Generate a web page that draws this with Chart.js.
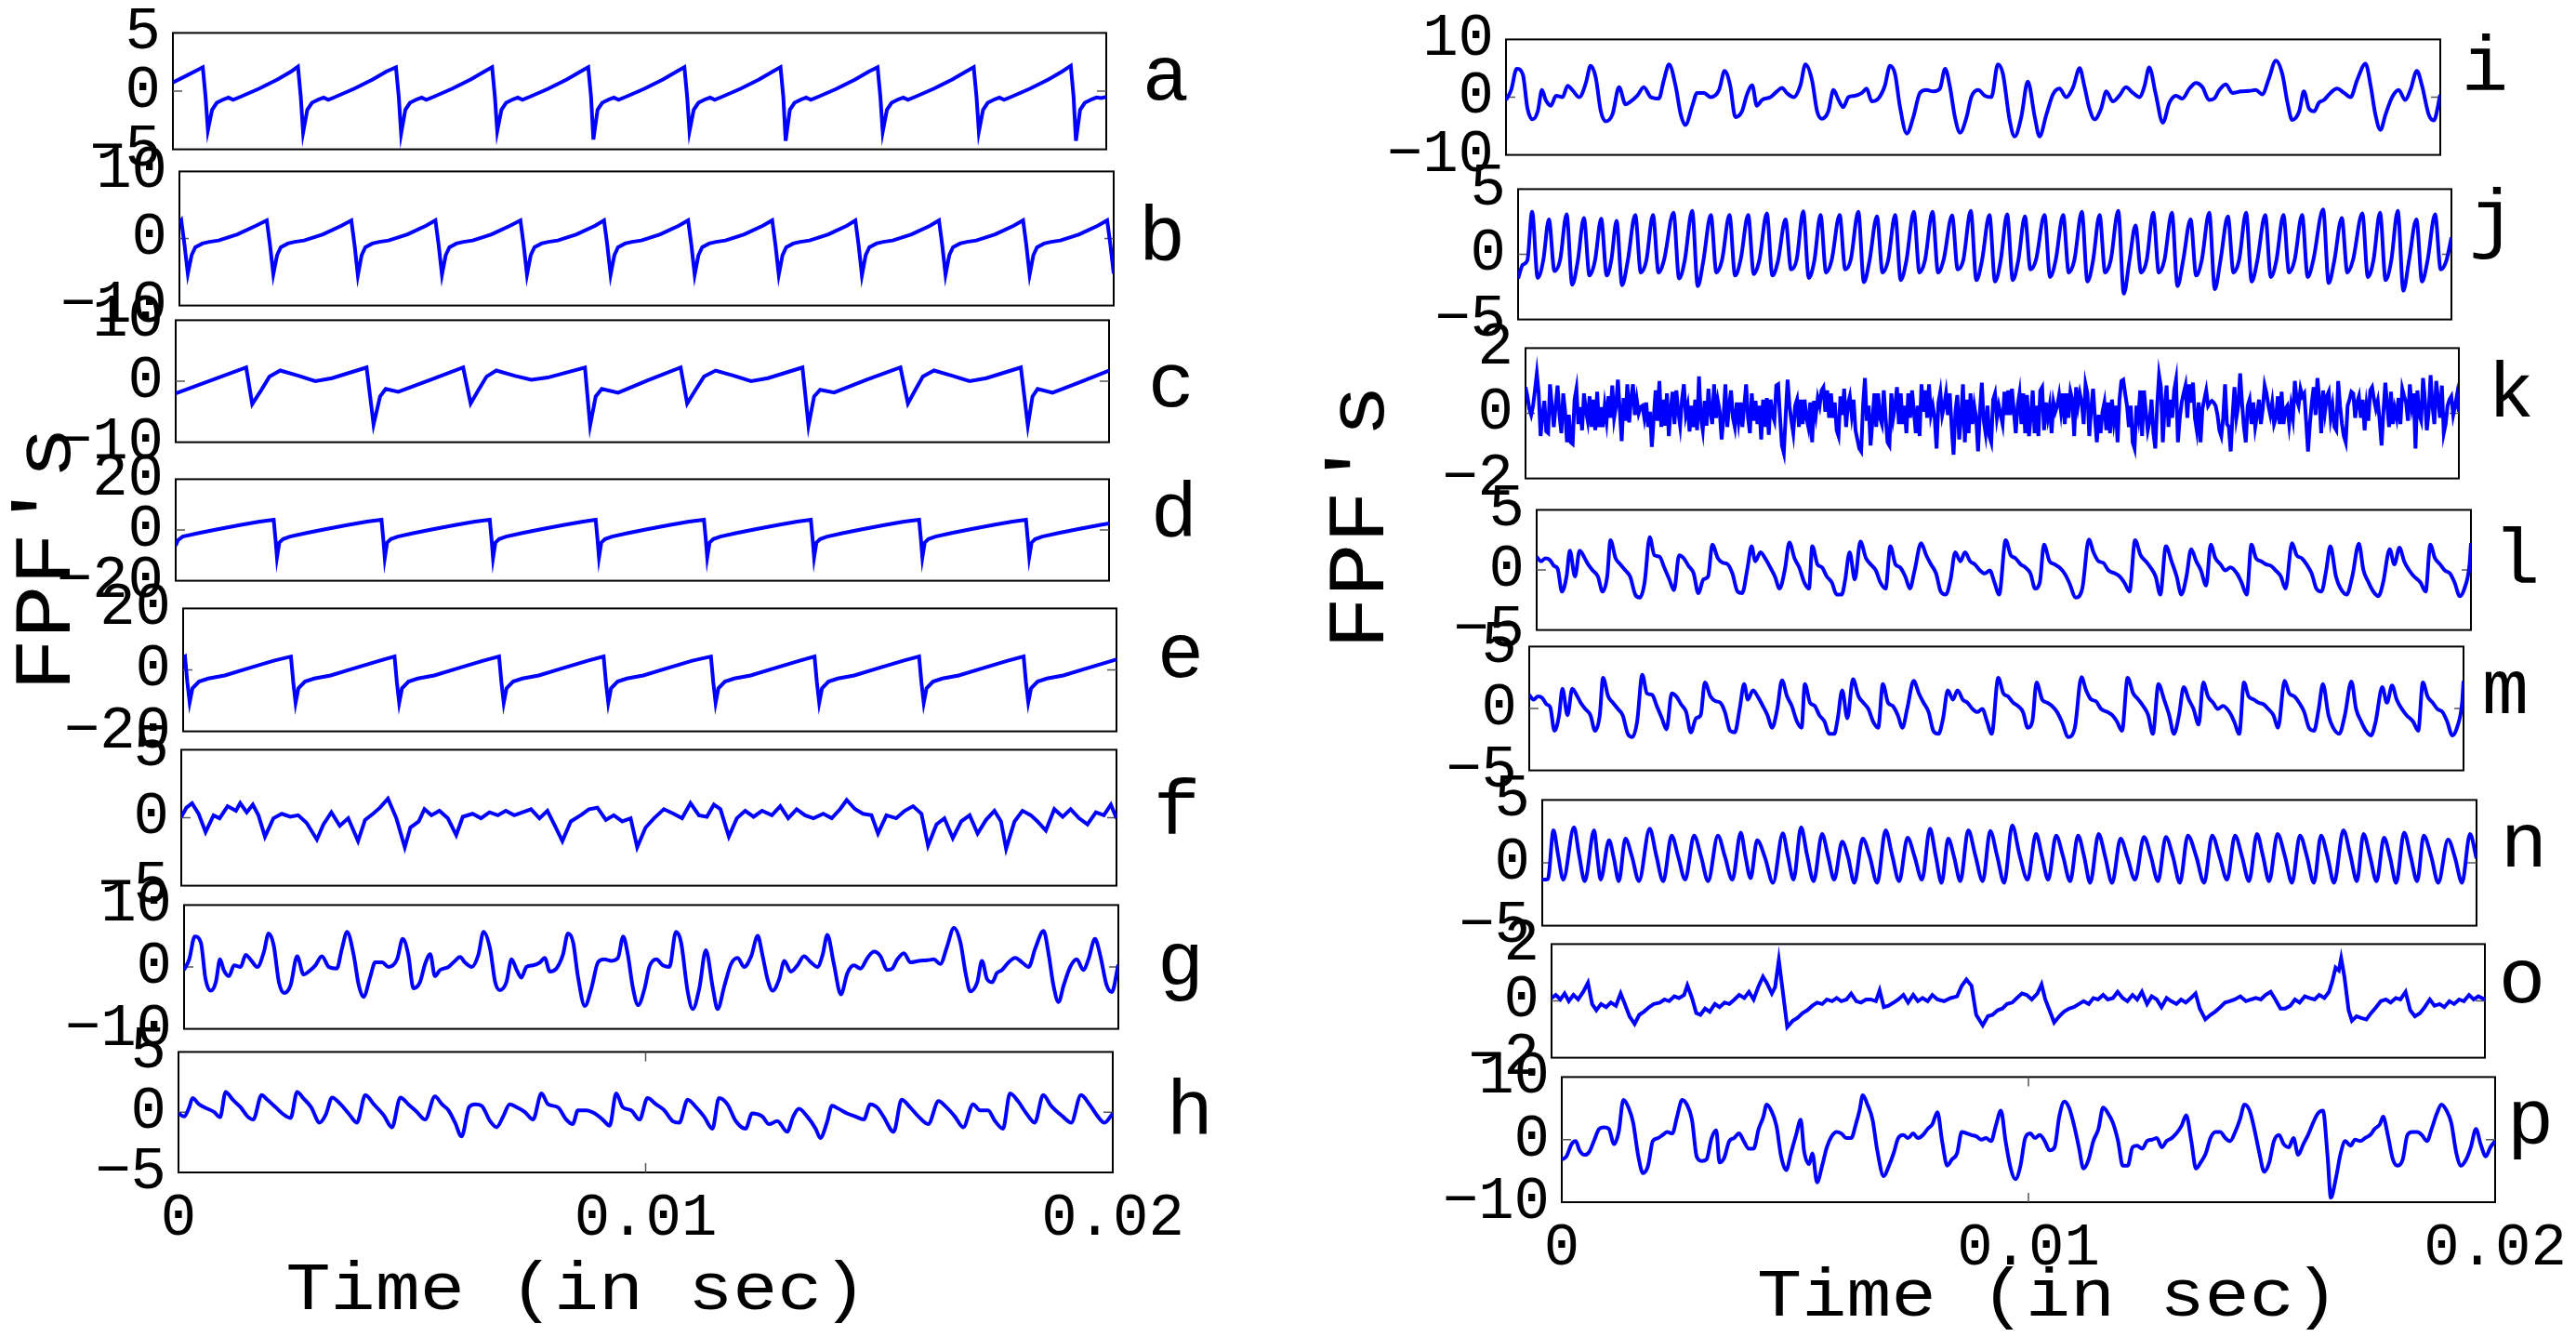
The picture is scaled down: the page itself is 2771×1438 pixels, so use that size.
<!DOCTYPE html>
<html>
<head>
<meta charset="utf-8">
<script src="https://cdn.jsdelivr.net/npm/chart.js@4.4.0/dist/chart.umd.min.js"></script>
<style>
  body { margin: 0; background: #fff; }
  #fig { position: relative; width: 2771px; height: 1438px; overflow: hidden; background: #fff; }
  #fig canvas { position: absolute; }
  #fig svg { position: absolute; left: 0; top: 0; }
</style>
</head>
<body>
<div id="fig"></div>
<script>
// ---- data: time in ms, FPF value ----
const timeTickValues = [0, 10, 20];
const timeTickLabels = ['0', '0.01', '0.02'];
const ticks2 = [-2, 0, 2];
const ticks5 = [-5, 0, 5];
const ticks10 = [-10, 0, 10];
const ticks20 = [-20, 0, 20];

const seriesA = [[0,0.75],[0.3,1.35],[0.5,1.75],[0.64,2.05],
[0.70,-0.5],[0.75,-3.35],[0.84,-1.6],[0.94,-1.0],[1.09,-0.7],[1.19,-0.55],[1.29,-0.75],[1.44,-0.5],[1.84,0.2],[2.24,1.0],[2.54,1.7],[2.68,2.1],
[2.74,-0.5],[2.79,-3.55],[2.88,-1.6],[2.98,-1.0],[3.13,-0.7],[3.23,-0.55],[3.33,-0.75],[3.48,-0.5],[3.88,0.2],[4.28,1.0],[4.58,1.7],[4.78,2.05],
[4.84,-0.5],[4.89,-3.64],[4.98,-1.6],[5.08,-1.0],[5.23,-0.7],[5.33,-0.55],[5.43,-0.75],[5.58,-0.5],[5.98,0.2],[6.38,1.0],[6.68,1.7],[6.84,2.05],
[6.90,-0.5],[6.95,-3.43],[7.04,-1.6],[7.14,-1.0],[7.29,-0.7],[7.39,-0.55],[7.49,-0.75],[7.64,-0.5],[8.04,0.2],[8.44,1.0],[8.74,1.7],[8.90,2.05],
[8.96,-0.5],[9.01,-4.16],[9.10,-1.6],[9.20,-1.0],[9.35,-0.7],[9.45,-0.55],[9.55,-0.75],[9.70,-0.5],[10.10,0.2],[10.50,1.0],[10.80,1.7],[10.96,2.05],
[11.02,-0.5],[11.07,-3.43],[11.16,-1.6],[11.26,-1.0],[11.41,-0.7],[11.51,-0.55],[11.61,-0.75],[11.76,-0.5],[12.16,0.2],[12.56,1.0],[12.86,1.7],[13.02,2.05],
[13.08,-0.5],[13.13,-4.27],[13.22,-1.6],[13.32,-1.0],[13.47,-0.7],[13.57,-0.55],[13.67,-0.75],[13.82,-0.5],[14.22,0.2],[14.62,1.0],[14.92,1.7],[15.10,2.05],
[15.16,-0.5],[15.21,-3.49],[15.30,-1.6],[15.40,-1.0],[15.55,-0.7],[15.65,-0.55],[15.75,-0.75],[15.90,-0.5],[16.30,0.2],[16.70,1.0],[17.00,1.7],[17.16,2.05],
[17.22,-0.5],[17.27,-3.49],[17.36,-1.6],[17.46,-1.0],[17.61,-0.7],[17.71,-0.55],[17.81,-0.75],[17.96,-0.5],[18.36,0.2],[18.76,1.0],[19.06,1.7],[19.24,2.18],
[19.30,-0.5],[19.35,-4.27],[19.44,-1.6],[19.54,-1.0],[19.69,-0.7],[19.79,-0.55],[19.89,-0.6],[20.0,-0.5]];

const seriesB = [[0,2.3],[0.04,2.7],
[0.11,-1.0],[0.18,-5.25],[0.26,-2.5],[0.34,-1.3],[0.49,-0.75],[0.64,-0.5],[0.84,-0.3],[1.24,0.6],[1.64,1.9],[1.87,2.7],
[1.94,-1.0],[2.01,-5.34],[2.09,-2.5],[2.17,-1.3],[2.32,-0.75],[2.47,-0.5],[2.67,-0.3],[3.07,0.6],[3.47,1.9],[3.68,2.7],
[3.75,-1.0],[3.82,-5.48],[3.90,-2.5],[3.98,-1.3],[4.13,-0.75],[4.28,-0.5],[4.48,-0.3],[4.88,0.6],[5.28,1.9],[5.48,2.7],
[5.55,-1.0],[5.62,-5.4],[5.70,-2.5],[5.78,-1.3],[5.93,-0.75],[6.08,-0.5],[6.28,-0.3],[6.68,0.6],[7.08,1.9],[7.30,2.7],
[7.37,-1.0],[7.44,-5.4],[7.52,-2.5],[7.60,-1.3],[7.75,-0.75],[7.90,-0.5],[8.10,-0.3],[8.50,0.6],[8.90,1.9],[9.09,2.7],
[9.16,-1.0],[9.23,-5.4],[9.31,-2.5],[9.39,-1.3],[9.54,-0.75],[9.69,-0.5],[9.89,-0.3],[10.29,0.6],[10.69,1.9],[10.89,2.7],
[10.96,-1.0],[11.03,-5.4],[11.11,-2.5],[11.19,-1.3],[11.34,-0.75],[11.49,-0.5],[11.69,-0.3],[12.09,0.6],[12.49,1.9],[12.69,2.7],
[12.76,-1.0],[12.83,-5.4],[12.91,-2.5],[12.99,-1.3],[13.14,-0.75],[13.29,-0.5],[13.49,-0.3],[13.89,0.6],[14.29,1.9],[14.47,2.7],
[14.54,-1.0],[14.61,-5.48],[14.69,-2.5],[14.77,-1.3],[14.92,-0.75],[15.07,-0.5],[15.27,-0.3],[15.67,0.6],[16.07,1.9],[16.26,2.7],
[16.33,-1.0],[16.40,-5.4],[16.48,-2.5],[16.56,-1.3],[16.71,-0.75],[16.86,-0.5],[17.06,-0.3],[17.46,0.6],[17.86,1.9],[18.06,2.7],
[18.13,-1.0],[18.20,-5.4],[18.28,-2.5],[18.36,-1.3],[18.51,-0.75],[18.66,-0.5],[18.86,-0.3],[19.26,0.6],[19.66,1.9],[19.86,2.7],
[19.93,-1.0],[20.0,-5.25]];

const seriesC = [[0,-2.0],[1.51,2.25],[1.64,-3.75],[1.83,-1.5],[2.01,0.75],[2.24,1.75],[2.63,0.9],[2.99,0.0],[3.35,0.5],
[4.09,2.25],[4.24,-7.1],[4.38,-2.5],[4.50,-1.25],[4.77,-1.75],[5.48,0.3],[6.16,2.25],[6.32,-3.65],[6.49,-1.4],[6.66,0.75],[6.87,1.75],
[7.26,0.9],[7.62,0.25],[7.97,0.6],[8.77,2.25],[8.88,-7.25],[9.00,-2.5],[9.13,-1.25],[9.48,-1.9],[10.10,0.1],[10.82,2.25],[10.96,-3.65],
[11.14,-1.4],[11.32,0.75],[11.57,1.75],[11.96,0.9],[12.33,0.0],[12.69,0.5],[13.43,2.25],[13.56,-7.25],[13.68,-2.5],[13.81,-1.4],
[14.11,-1.85],[14.82,0.3],[15.53,2.25],[15.69,-3.65],[15.85,-1.4],[16.01,0.75],[16.25,1.75],[16.64,0.9],[17.01,0.0],[17.37,0.5],
[18.11,2.25],[18.26,-7.25],[18.36,-2.5],[18.47,-1.25],[18.79,-1.9],[19.36,-0.2],[20.0,1.75]];

const seriesD = [[0,-6.1],[0.05,-4.0],[0.15,-2.6],[0.5,-1.2],[0.9,0.3],[1.4,2.0],[1.8,3.3],[2.10,4.05],
[2.14,-4],[2.17,-10.8],[2.22,-5.0],[2.30,-3.6],[2.45,-2.6],[2.80,-1.2],[3.20,0.3],[3.70,2.0],[4.10,3.3],[4.41,4.05],
[4.45,-4],[4.48,-11.0],[4.53,-5.0],[4.61,-3.6],[4.76,-2.6],[5.11,-1.2],[5.51,0.3],[6.01,2.0],[6.41,3.3],[6.73,4.05],
[6.77,-4],[6.80,-11.0],[6.85,-5.0],[6.93,-3.6],[7.08,-2.6],[7.43,-1.2],[7.83,0.3],[8.33,2.0],[8.73,3.3],[9.00,4.05],
[9.04,-4],[9.07,-10.8],[9.12,-5.0],[9.20,-3.6],[9.35,-2.6],[9.70,-1.2],[10.10,0.3],[10.60,2.0],[11.00,3.3],[11.32,4.05],
[11.36,-4],[11.39,-10.8],[11.44,-5.0],[11.52,-3.6],[11.67,-2.6],[12.02,-1.2],[12.42,0.3],[12.92,2.0],[13.32,3.3],[13.61,4.05],
[13.65,-4],[13.68,-10.8],[13.73,-5.0],[13.81,-3.6],[13.96,-2.6],[14.31,-1.2],[14.71,0.3],[15.21,2.0],[15.61,3.3],[15.93,4.05],
[15.97,-4],[16.00,-10.8],[16.05,-5.0],[16.13,-3.6],[16.28,-2.6],[16.63,-1.2],[17.03,0.3],[17.53,2.0],[17.93,3.3],[18.22,4.05],
[18.26,-4],[18.29,-10.6],[18.34,-5.0],[18.42,-3.6],[18.57,-2.6],[18.92,-1.2],[19.32,0.3],[19.82,2.0],[20.0,2.6]];

const seriesE = [[0,4.0],[0.04,4.35],
[0.09,-4],[0.14,-10.5],[0.20,-6.0],[0.34,-3.8],[0.54,-2.8],[0.89,-1.8],[1.39,0.5],[1.94,3.0],[2.31,4.35],
[2.36,-4],[2.41,-10.7],[2.47,-6.0],[2.61,-3.8],[2.81,-2.8],[3.16,-1.8],[3.66,0.5],[4.21,3.0],[4.53,4.35],
[4.58,-4],[4.63,-10.7],[4.69,-6.0],[4.83,-3.8],[5.03,-2.8],[5.38,-1.8],[5.88,0.5],[6.43,3.0],[6.77,4.35],
[6.82,-4],[6.87,-10.7],[6.93,-6.0],[7.07,-3.8],[7.27,-2.8],[7.62,-1.8],[8.12,0.5],[8.67,3.0],[9.01,4.35],
[9.06,-4],[9.11,-10.7],[9.17,-6.0],[9.31,-3.8],[9.51,-2.8],[9.86,-1.8],[10.36,0.5],[10.91,3.0],[11.31,4.35],
[11.36,-4],[11.41,-10.7],[11.47,-6.0],[11.61,-3.8],[11.81,-2.8],[12.16,-1.8],[12.66,0.5],[13.21,3.0],[13.53,4.35],
[13.58,-4],[13.63,-10.7],[13.69,-6.0],[13.83,-3.8],[14.03,-2.8],[14.38,-1.8],[14.88,0.5],[15.43,3.0],[15.77,4.35],
[15.82,-4],[15.87,-10.7],[15.93,-6.0],[16.07,-3.8],[16.27,-2.8],[16.62,-1.8],[17.12,0.5],[17.67,3.0],[18.01,4.35],
[18.06,-4],[18.11,-10.5],[18.17,-6.0],[18.31,-3.8],[18.51,-2.8],[18.86,-1.8],[19.36,0.5],[19.91,3.0],[20.0,3.4]];

const seriesF = [[0,0.07],[0.11,0.74],[0.23,1.07],[0.37,0.29],[0.52,-1.05],[0.69,0.18],[0.82,-0.04],[0.99,0.85],[1.17,0.51],[1.26,1.07],
[1.40,0.40],[1.53,0.96],[1.65,0.18],[1.79,-1.39],[1.97,-0.04],[2.15,0.29],[2.33,0.07],[2.50,0.18],[2.68,-0.38],[2.90,-1.61],
[3.04,-0.49],[3.21,0.40],[3.39,-0.60],[3.57,-0.04],[3.78,-1.72],[3.93,-0.16],[4.10,0.29],[4.25,0.74],[4.42,1.41],[4.60,-0.04],
[4.78,-2.17],[4.90,-0.72],[5.08,-0.27],[5.20,0.63],[5.35,0.18],[5.52,0.51],[5.70,-0.04],[5.88,-1.28],[6.02,0.07],[6.23,0.29],
[6.41,-0.04],[6.59,0.40],[6.77,0.18],[6.94,0.51],[7.12,0.18],[7.30,0.40],[7.48,0.63],[7.66,-0.04],[7.83,0.51],[8.01,-0.72],
[8.15,-1.72],[8.33,-0.27],[8.54,0.18],[8.72,0.63],[8.90,0.74],[9.08,-0.16],[9.25,0.18],[9.43,-0.27],[9.61,-0.04],[9.75,-2.17],
[9.93,-0.72],[10.11,-0.04],[10.32,0.63],[10.53,0.29],[10.71,-0.04],[10.89,1.07],[11.07,0.18],[11.24,0.07],[11.39,0.96],[11.53,0.63],
[11.71,-1.39],[11.88,-0.04],[12.06,0.51],[12.24,0.07],[12.42,0.51],[12.63,0.18],[12.81,0.85],[12.98,-0.04],[13.16,0.63],[13.34,0.18],
[13.52,-0.04],[13.73,0.29],[13.91,-0.04],[14.09,0.63],[14.23,1.30],[14.41,0.63],[14.58,0.29],[14.76,0.18],[14.90,-1.16],[15.08,0.18],
[15.29,-0.04],[15.47,0.51],[15.65,0.85],[15.83,0.29],[15.97,-2.06],[16.15,-0.49],[16.32,-0.04],[16.50,-1.50],[16.68,-0.27],[16.86,0.18],
[17.03,-1.16],[17.21,-0.16],[17.39,0.51],[17.53,-0.27],[17.64,-2.28],[17.82,-0.27],[17.99,0.51],[18.17,0.18],[18.31,-0.27],[18.49,-0.94],
[18.67,0.63],[18.85,0.07],[19.02,0.63],[19.20,-0.04],[19.38,-0.49],[19.56,0.40],[19.73,0.18],[19.88,0.96],[20.0,-0.04]];

// panel g (the same trace appears again as panel i)
const seriesG = [[0,-0.49],[0.11,1.23],[0.23,4.93],[0.36,3.94],[0.46,-1.97],[0.57,-3.84],[0.68,-2.46],[0.77,1.23],[0.85,-0.49],[0.96,-1.48],
[1.07,0.25],[1.21,0.0],[1.32,1.97],[1.42,1.23],[1.57,0.0],[1.71,2.46],[1.81,5.42],[1.92,3.45],[2.03,-2.46],[2.14,-4.19],
[2.28,-2.96],[2.42,1.72],[2.56,-1.23],[2.67,-0.74],[2.81,0.25],[2.95,1.72],[3.10,0.0],[3.27,-0.25],[3.38,2.96],[3.49,5.67],
[3.63,1.97],[3.74,-2.96],[3.84,-4.83],[3.99,-1.48],[4.09,0.74],[4.24,0.74],[4.38,0.0],[4.56,1.23],[4.68,4.53],[4.80,1.97],
[4.91,-3.45],[5.05,-2.46],[5.16,0.49],[5.27,2.07],[5.37,-1.48],[5.48,-0.49],[5.66,0.0],[5.80,0.99],[5.91,1.63],[6.01,0.74],
[6.16,0.0],[6.30,1.97],[6.41,5.67],[6.55,2.96],[6.66,-2.46],[6.76,-3.74],[6.90,-2.46],[7.01,1.23],[7.12,-0.49],[7.22,-1.72],
[7.33,0.0],[7.47,0.25],[7.62,0.74],[7.72,1.48],[7.83,-0.74],[7.97,-0.25],[8.11,1.97],[8.22,5.42],[8.33,3.94],[8.43,-1.48],
[8.58,-6.31],[8.72,-3.45],[8.86,0.74],[9.00,1.23],[9.15,0.99],[9.29,1.48],[9.40,4.93],[9.50,1.97],[9.61,-3.45],[9.72,-6.16],
[9.86,-3.45],[9.96,0.0],[10.11,1.23],[10.25,0.25],[10.39,0.0],[10.53,5.67],[10.64,3.94],[10.78,-3.94],[10.89,-6.80],[11.03,-3.45],
[11.17,2.71],[11.32,-3.45],[11.42,-6.80],[11.57,-2.96],[11.71,0.49],[11.85,1.48],[11.99,0.0],[12.14,1.72],[12.28,5.02],[12.38,1.97],
[12.49,-1.97],[12.60,-3.84],[12.74,-1.97],[12.85,0.99],[12.99,-0.74],[13.13,0.25],[13.27,1.72],[13.42,0.74],[13.56,0.0],[13.67,1.97],
[13.77,5.17],[13.91,0.49],[14.06,-4.43],[14.20,-0.99],[14.34,0.25],[14.48,-0.25],[14.63,1.48],[14.77,2.46],[14.91,1.72],[15.05,-0.49],
[15.16,-0.25],[15.27,1.23],[15.41,2.22],[15.55,0.74],[15.73,0.99],[15.91,1.08],[16.05,1.23],[16.19,0.49],[16.33,3.20],[16.48,6.31],
[16.62,3.94],[16.73,-0.99],[16.83,-3.94],[16.98,-2.46],[17.08,0.99],[17.19,-1.97],[17.30,-2.46],[17.40,-0.99],[17.51,-0.49],[17.65,0.74],
[17.79,1.48],[17.94,0.74],[18.08,0.0],[18.22,2.96],[18.40,5.81],[18.51,1.97],[18.61,-2.96],[18.72,-5.67],[18.83,-2.96],[18.97,0.0],
[19.11,1.23],[19.25,-0.49],[19.36,1.23],[19.50,4.53],[19.61,1.97],[19.75,-2.96],[19.86,-4.04],[20.0,0.39]];

const seriesH = [[0,-0.10],[0.12,-0.36],[0.23,0.41],[0.30,1.17],[0.44,0.66],[0.62,0.28],[0.76,0.03],[0.89,-0.41],[1.01,1.68],[1.16,1.04],
[1.33,0.41],[1.48,-0.36],[1.60,-0.61],[1.78,1.42],[1.90,1.04],[2.08,0.41],[2.22,-0.10],[2.40,-0.48],[2.54,1.68],[2.67,1.17],
[2.84,0.41],[3.02,-0.87],[3.15,-0.23],[3.29,1.22],[3.47,0.66],[3.64,-0.10],[3.82,-0.87],[4.00,1.42],[4.18,0.66],[4.39,-0.23],
[4.57,-1.25],[4.75,1.22],[4.92,0.66],[5.10,0.03],[5.28,-0.61],[5.49,1.30],[5.64,0.66],[5.78,0.15],[5.92,-0.87],[6.06,-2.01],
[6.22,0.41],[6.35,0.66],[6.49,0.53],[6.67,-0.74],[6.81,-1.25],[6.95,-0.36],[7.09,0.66],[7.24,0.41],[7.41,0.03],[7.59,-0.61],
[7.77,1.55],[7.91,0.66],[8.12,0.41],[8.30,-0.61],[8.44,-0.99],[8.55,0.15],[8.73,0.15],[8.91,-0.10],[9.08,-0.61],[9.23,-1.12],
[9.37,1.55],[9.51,0.41],[9.69,0.15],[9.87,-0.61],[10.04,1.17],[10.22,0.66],[10.40,0.15],[10.58,-0.74],[10.72,-0.87],[10.90,1.04],
[11.08,0.41],[11.25,-0.36],[11.43,-1.37],[11.57,1.17],[11.75,0.66],[11.93,-0.74],[12.14,-1.37],[12.28,-0.10],[12.50,-0.36],[12.64,-0.99],
[12.82,-0.74],[13.03,-1.63],[13.16,-0.36],[13.28,0.28],[13.46,-0.36],[13.64,-1.37],[13.74,-2.14],[13.88,-0.87],[13.99,0.53],[14.13,0.28],
[14.31,-0.10],[14.49,-0.36],[14.67,-0.61],[14.81,0.66],[14.95,0.41],[15.09,-0.36],[15.31,-1.63],[15.48,1.04],[15.66,0.41],[15.84,-0.36],
[16.05,-0.99],[16.27,0.92],[16.44,0.41],[16.62,-0.36],[16.80,-1.25],[17.01,0.66],[17.16,0.15],[17.33,0.15],[17.48,-0.74],[17.65,-1.37],
[17.80,1.55],[17.97,0.92],[18.15,-0.10],[18.33,-0.87],[18.51,1.42],[18.68,0.53],[18.93,-0.36],[19.11,-0.87],[19.32,1.42],[19.50,0.66],
[19.68,-0.36],[19.82,-0.87],[20.0,-0.10]];

const seriesJ = [[0,-1.86],[0.1,-0.8],[0.2,-0.45],
[0.30,3.26],[0.42,-1.81],[0.54,-0.45],[0.66,2.67],[0.78,-1.28],[0.90,-0.45],[1.04,3.07],[1.16,-2.33],[1.28,-0.5],
[1.41,2.79],[1.53,-1.63],[1.65,-0.45],[1.78,2.72],[1.90,-1.63],[2.0,-0.4],[2.11,2.56],[2.23,-2.37],[2.35,-0.5],
[2.51,3.02],[2.63,-1.40],[2.75,-0.45],[2.89,3.02],[3.01,-1.40],[3.13,-0.4],[3.33,3.19],[3.45,-1.86],[3.57,-0.5],
[3.73,3.33],[3.85,-2.44],[3.97,-0.5],[4.13,3.02],[4.25,-1.40],[4.37,-0.45],[4.53,3.02],[4.65,-1.63],[4.77,-0.4],
[4.93,3.02],[5.05,-1.51],[5.17,-0.45],[5.33,3.14],[5.45,-1.63],[5.57,-0.5],[5.73,2.67],[5.85,-1.16],[5.97,-0.4],
[6.11,3.30],[6.23,-1.81],[6.35,-0.45],[6.48,3.02],[6.60,-1.40],[6.72,-0.45],[6.89,3.02],[7.01,-1.16],[7.13,-0.4],
[7.29,3.26],[7.41,-2.14],[7.53,-0.5],[7.69,2.91],[7.81,-1.40],[7.93,-0.45],[8.08,3.02],[8.20,-1.98],[8.32,-0.5],
[8.48,3.26],[8.60,-1.40],[8.72,-0.45],[8.88,3.26],[9.00,-1.40],[9.12,-0.4],[9.30,2.98],[9.42,-1.16],[9.54,-0.45],
[9.70,3.33],[9.82,-1.98],[9.94,-0.5],[10.10,3.02],[10.22,-2.09],[10.34,-0.5],[10.48,3.07],[10.60,-1.98],[10.72,-0.45],
[10.86,2.91],[10.98,-1.16],[11.10,-0.4],[11.28,3.02],[11.40,-1.74],[11.52,-0.45],[11.68,3.02],[11.80,-1.40],[11.92,-0.45],
[12.08,3.26],[12.20,-2.09],[12.32,-0.5],[12.46,3.02],[12.58,-1.40],[12.70,-0.45],[12.86,3.33],[12.98,-3.02],[13.10,-0.5],
[13.23,2.21],[13.35,-1.40],[13.47,-0.45],[13.61,3.19],[13.73,-1.40],[13.85,-0.45],[14.01,3.19],[14.13,-2.44],[14.25,-0.5],
[14.41,2.67],[14.53,-1.63],[14.65,-0.45],[14.81,3.19],[14.93,-2.67],[15.05,-0.5],[15.21,2.91],[15.33,-1.40],[15.45,-0.45],
[15.60,3.19],[15.72,-2.09],[15.84,-0.5],[16.01,3.02],[16.13,-1.74],[16.25,-0.45],[16.40,3.02],[16.52,-1.40],[16.64,-0.45],
[16.80,3.02],[16.92,-1.74],[17.04,-0.45],[17.25,3.44],[17.37,-2.21],[17.49,-0.5],[17.65,2.79],[17.77,-1.40],[17.89,-0.45],
[18.09,3.14],[18.21,-1.74],[18.33,-0.45],[18.47,3.19],[18.59,-1.98],[18.71,-0.5],[18.85,3.33],[18.97,-2.79],[19.09,-0.5],
[19.25,2.67],[19.37,-2.09],[19.49,-0.45],[19.65,3.07],[19.77,-1.16],[19.89,-0.5],[20.0,1.28]];

// panel k: evenly sampled values read across the 20 ms window
const seriesKValues = [0.80,0.52,0.14,-0.05,0.23,0.70,1.22,0.61,-0.70,-0.05,0.38,-0.56,-0.61,0.89,0.23,-0.42,0.23,0.85,-0.05,-0.61,
0.61,0.05,-0.89,-0.05,-0.89,-0.94,0.42,0.75,-0.33,0.19,-0.52,0.61,0.09,-0.23,0.52,-0.42,0.42,-0.52,0.66,-0.42,0.19,-0.42,0.23,-0.23,
0.52,-0.14,0.85,-0.14,0.23,1.03,0.09,-0.85,0.47,-0.23,0.89,-0.28,0.47,0.89,-0.05,0.42,0,0.19,0.23,-0.14,0.33,-0.42,0.05,-1.03,-0.14,
0.70,-0.23,0.99,-0.42,0.42,-0.38,0.61,-0.70,0.14,0.66,-0.33,0.70,0.05,-0.38,0.42,0.89,-0.05,0.23,-0.56,0.23,-0.42,0.42,-0.52,1.13,
-0.14,-0.52,0.38,-0.38,0.75,0.05,-0.33,0.89,-0.14,0.38,0.05,-0.80,-0.14,0.89,-0.42,0.23,0.70,-0.14,-0.42,0.33,-0.23,0.33,-0.42,0.23,
0.89,-0.14,-0.61,0.61,-0.23,0.38,-0.33,0.23,-0.80,0.42,-0.42,0.47,-0.66,0.42,-0.05,-0.23,0.85,0.89,-0.14,-0.99,-1.22,-0.05,1.03,0.23,
-0.23,-0.61,0.23,0.42,-0.42,0.42,-0.33,0.42,-0.14,-0.42,0.33,-0.89,0.38,-0.05,0.47,0.23,0.70,0.80,0.05,0.70,-0.14,0.61,-0.14,0.33,
-0.52,-0.70,0.52,-0.05,0.75,-0.42,0.28,0.52,-0.05,0.42,-0.52,-0.80,-1.08,-1.17,0.23,1.08,-0.23,0.23,-0.99,-0.23,0.61,-0.42,0.61,-0.14,
-0.33,0.70,-0.14,-0.89,-0.99,0.61,-0.14,0.23,0.80,-0.33,0.61,-0.33,0.23,-0.61,0.61,-0.14,0.70,0.05,-0.61,0.23,-0.70,0.89,0.05,0.70,
-0.14,0.89,-0.05,0.23,-0.14,-1.08,0.33,0.66,-0.05,0.23,0.61,-0.05,0.61,-0.42,-1.27,0.05,0.56,-0.80,-0.14,0.89,-0.89,0.42,-0.61,0.61,
-0.33,0.23,-0.14,-1.17,0.05,0.94,-0.23,-0.61,0.23,-0.70,-0.89,0.42,0.61,-0.14,0.23,-0.05,-0.33,0.66,-0.05,0.70,-0.05,0.75,0.05,-0.61,
0.23,0.61,
-0.33,0.61,-0.61,0.56,-0.70,-0.05,0.70,-0.61,0.23,-0.70,0.70,0.80,-0.52,0.33,-0.14,0.23,-0.61,0.33,0.05,0.23,0.56,0.05,0.61,-0.33,
0.61,-0.14,0.66,0.42,-0.70,0.80,0.23,0.61,0.33,-0.33,0.89,0.61,-0.70,0.14,0.75,-0.14,-0.89,-0.05,-0.61,0.05,0.33,-0.52,0.33,-0.61,
0.42,-0.23,0.23,-0.89,0.42,0.99,1.03,0.61,0.23,-0.42,0.23,-0.89,-1.08,0.23,-0.14,0.70,-0.70,0.70,0.05,-0.52,-0.23,0.42,-0.61,-1.08,
0.23,1.17,0.80,-0.89,0.23,0.85,-0.42,0.42,-0.14,0.70,1.03,-0.89,-0.14,0.33,0.61,0.85,-0.14,0.89,0.33,0.94,-0.14,-0.52,0.33,-0.89,
0.14,0.42,0.70,0.23,0.33,0.38,0.33,0.23,-0.05,-0.52,-0.70,-0.14,0.89,-0.33,-0.42,-1.17,-0.05,0.80,-0.14,0.23,1.22,0.33,-0.42,-0.89,
0.23,0.42,-0.33,0.33,-0.42,-0.05,0.42,-0.33,0.14,0.85,0.61,0.23,-0.05,0.33,-0.33,-0.14,0.52,-0.33,0.66,-0.33,0.14,0.23,-0.33,0.23,
-0.14,0.99,0.42,0.23,0.75,0.52,0.61,-0.23,-1.17,-0.33,0.33,0.80,-0.05,1.08,0.42,-0.61,0.70,0.05,0.52,0.66,-0.14,0.23,-0.42,-0.52,
0.99,0.23,-0.33,-0.70,-0.89,0.23,0.42,0.66,0.61,-0.14,0.33,0.52,-0.14,0.42,-0.52,0.23,-0.23,0.70,0.80,0.42,0.14,0.38,-0.23,-0.99,
0.05,0.94,0.23,-0.42,0.66,-0.33,0.14,-0.14,0.47,-0.33,0.75,0.52,0.33,-0.23,0.89,0.23,0.61,-1.08,0.70,-0.05,-0.23,1.08,0.42,-0.52,
0.05,1.17,0.23,-0.33,0.99,0.42,-0.14,0.85,-0.61,-0.33,0.23,0.42,0.52,-0.05,0.23,0.56,0.05];

// panel l (the same trace appears again as panel m)
const seriesL = [[0,1.10],[0.09,0.72],[0.19,0.97],[0.28,0.84],[0.37,0.34],[0.45,0.09],[0.54,-1.80],[0.64,-0.54],[0.71,1.60],[0.82,-0.54],
[0.92,1.60],[1.03,0.97],[1.10,0.47],[1.20,-0.04],[1.31,-0.54],[1.41,-1.80],[1.51,-0.54],[1.58,2.48],[1.69,0.97],[1.79,0.47],
[1.90,-0.04],[2.00,-0.54],[2.11,-2.05],[2.21,-2.30],[2.31,-1.05],[2.42,2.73],[2.52,1.22],[2.63,1.10],[2.73,0.21],[2.84,-0.79],
[2.94,-1.68],[3.05,1.22],[3.15,0.97],[3.25,0.34],[3.36,-0.29],[3.46,-1.93],[3.57,-0.79],[3.67,-0.54],[3.76,2.10],[3.88,0.97],
[3.99,0.59],[4.09,0.47],[4.19,-0.29],[4.30,-1.80],[4.40,-1.93],[4.51,0.09],[4.60,1.98],[4.68,0.72],[4.79,1.47],[4.89,0.97],
[5.00,0.21],[5.10,-0.54],[5.20,-1.55],[5.31,-0.04],[5.41,2.28],[5.52,0.97],[5.62,0.21],[5.73,-1.05],[5.83,-1.55],[5.90,1.98],
[6.01,0.47],[6.11,0.21],[6.21,-0.54],[6.32,-1.05],[6.42,-2.05],[6.53,-2.05],[6.60,-0.92],[6.70,1.47],[6.81,-0.79],[6.93,2.36],
[7.05,0.97],[7.15,0.47],[7.26,-0.04],[7.36,-1.05],[7.47,-1.55],[7.57,1.98],[7.68,0.47],[7.78,0.21],[7.89,-0.54],[7.99,-1.55],
[8.09,-0.04],[8.23,2.23],[8.34,1.22],[8.44,0.47],[8.55,-0.29],[8.65,-1.80],[8.76,-2.05],[8.86,-0.79],[8.96,1.47],[9.07,0.72],
[9.17,1.47],[9.28,0.72],[9.38,0.47],[9.49,-0.04],[9.59,-0.29],[9.70,-0.04],[9.80,-1.05],[9.90,-2.05],[10.04,2.48],[10.15,1.22],
[10.25,0.97],[10.36,0.47],[10.46,0.21],[10.57,-0.29],[10.67,-1.55],[10.77,-1.05],[10.86,2.10],[10.98,0.72],[11.09,0.47],[11.19,0.21],
[11.30,-0.29],[11.40,-1.05],[11.54,-2.30],[11.68,-1.55],[11.82,2.53],[11.92,1.47],[12.03,0.72],[12.13,0.59],[12.24,-0.04],[12.38,-0.29],
[12.48,-0.54],[12.58,-1.05],[12.69,-1.80],[12.81,2.48],[12.93,1.22],[13.04,0.72],[13.14,0.21],[13.25,-0.54],[13.35,-2.05],[13.47,1.98],
[13.59,0.72],[13.70,-0.54],[13.80,-2.05],[13.91,-0.54],[14.01,1.73],[14.12,0.72],[14.22,-0.04],[14.33,-1.30],[14.43,2.10],[14.53,0.97],
[14.64,0.47],[14.74,-0.04],[14.85,0.21],[14.99,-0.29],[15.09,-1.05],[15.20,-2.05],[15.30,2.10],[15.40,0.97],[15.51,0.72],[15.61,0.47],
[15.72,0.34],[15.82,-0.04],[15.93,-0.54],[16.03,-1.55],[16.17,2.23],[16.27,1.22],[16.38,0.97],[16.48,0.47],[16.59,-0.29],[16.69,-1.55],
[16.80,-1.80],[16.90,-0.04],[16.99,1.98],[17.11,-0.54],[17.21,-1.55],[17.34,-2.05],[17.46,-0.54],[17.60,2.18],[17.70,-0.04],[17.81,-1.05],
[17.91,-1.80],[18.02,-2.18],[18.12,-1.05],[18.26,1.73],[18.36,0.47],[18.47,1.85],[18.57,0.72],[18.68,-0.04],[18.78,-0.54],[18.92,-1.05],
[19.03,-1.80],[19.13,2.10],[19.23,0.97],[19.34,0.47],[19.44,-0.04],[19.55,-0.29],[19.65,-1.05],[19.76,-2.18],[19.86,-1.55],[19.97,0.47],
[20.0,2.23]];

const seriesN = [[0,-1.34],[0.12,-1.3],
[0.24,2.58],[0.34,0.6],[0.45,-1.34],[0.68,2.82],[0.79,0.6],[0.91,-1.46],[1.11,2.58],[1.18,0.5],[1.25,-1.34],
[1.43,1.80],[1.53,0.4],[1.64,-1.46],[1.78,1.92],[1.92,0.5],[2.07,-1.46],[2.30,2.72],[2.44,0.6],[2.59,-1.46],
[2.77,2.17],[2.91,0.5],[3.06,-1.34],[3.25,2.17],[3.40,0.5],[3.55,-1.46],[3.76,2.17],[3.91,0.5],[4.07,-1.34],
[4.25,2.41],[4.35,0.5],[4.46,-1.22],[4.60,1.80],[4.77,0.4],[4.94,-1.59],[5.15,2.34],[5.26,0.5],[5.38,-1.34],
[5.54,2.82],[5.67,0.6],[5.81,-1.46],[5.99,2.29],[6.12,0.5],[6.25,-1.34],[6.42,1.68],[6.55,0.4],[6.68,-1.59],
[6.86,1.92],[7.01,0.5],[7.17,-1.59],[7.35,2.58],[7.49,0.6],[7.64,-1.46],[7.82,2.00],[7.97,0.5],[8.13,-1.34],
[8.30,2.72],[8.42,0.6],[8.55,-1.59],[8.69,1.92],[8.82,0.4],[8.95,-1.46],[9.12,2.58],[9.27,0.6],[9.43,-1.46],
[9.59,2.53],[9.74,0.5],[9.89,-1.59],[10.06,2.97],[10.22,0.6],[10.39,-1.34],[10.57,2.29],[10.70,0.5],[10.83,-1.34],
[11.00,2.17],[11.15,0.5],[11.30,-1.46],[11.47,2.17],[11.60,0.5],[11.73,-1.59],[11.91,2.29],[12.05,0.5],[12.20,-1.59],
[12.38,1.92],[12.53,0.4],[12.69,-1.34],[12.88,2.05],[13.03,0.5],[13.18,-1.46],[13.35,2.05],[13.50,0.5],[13.65,-1.59],
[13.82,2.17],[14.00,0.5],[14.17,-1.59],[14.34,2.17],[14.50,0.5],[14.66,-1.34],[14.83,2.17],[14.98,0.5],[15.13,-1.46],
[15.30,2.29],[15.43,0.5],[15.56,-1.46],[15.74,2.29],[15.90,0.5],[16.05,-1.59],[16.22,2.17],[16.37,0.5],[16.52,-1.59],
[16.67,2.17],[16.81,0.5],[16.95,-1.59],[17.15,2.58],[17.30,0.6],[17.44,-1.46],[17.58,2.29],[17.72,0.5],[17.86,-1.46],
[18.02,2.00],[18.15,0.4],[18.28,-1.59],[18.45,2.41],[18.59,0.5],[18.73,-1.46],[18.87,2.17],[19.03,0.5],[19.18,-1.59],
[19.39,1.85],[19.54,0.4],[19.69,-1.59],[19.86,2.29],[20.0,0.35]];

const seriesO = [[0,0.10],[0.09,0.21],[0.19,0.05],[0.28,0.26],[0.37,-0.01],[0.47,0.21],[0.57,0.05],[0.68,0.32],[0.78,0.64],[0.87,-0.11],
[0.96,-0.33],[1.06,-0.11],[1.17,-0.22],[1.27,-0.06],[1.38,-0.17],[1.48,0.26],[1.57,-0.11],[1.67,-0.54],[1.78,-0.81],[1.88,-0.49],
[1.98,-0.38],[2.09,-0.22],[2.19,-0.11],[2.32,-0.06],[2.42,0.05],[2.52,-0.01],[2.63,0.16],[2.73,0.10],[2.84,0.21],[2.91,0.55],
[3.01,0.10],[3.10,-0.43],[3.19,-0.49],[3.29,-0.27],[3.39,-0.38],[3.50,-0.11],[3.60,-0.22],[3.71,-0.06],[3.81,-0.11],[3.92,0.05],
[4.02,0.21],[4.13,0.10],[4.23,0.32],[4.33,0.05],[4.44,0.53],[4.53,0.85],[4.61,0.64],[4.72,0.26],[4.79,0.48],[4.87,1.44],
[4.94,0.53],[5.05,-0.92],[5.17,-0.70],[5.27,-0.60],[5.38,-0.43],[5.48,-0.33],[5.59,-0.17],[5.69,-0.06],[5.80,-0.11],[5.90,0.05],
[6.01,-0.01],[6.11,0.10],[6.21,-0.01],[6.32,0.05],[6.42,0.26],[6.53,-0.01],[6.63,-0.06],[6.74,0.05],[6.84,0.05],[6.95,-0.01],
[7.03,0.37],[7.12,-0.22],[7.22,-0.17],[7.33,-0.06],[7.43,0.05],[7.54,0.21],[7.64,-0.06],[7.75,0.21],[7.85,-0.01],[7.95,0.10],
[8.06,-0.01],[8.16,0.21],[8.27,0.05],[8.41,-0.01],[8.55,0.10],[8.69,0.16],[8.79,0.53],[8.89,0.75],[9.00,0.53],[9.10,-0.49],
[9.24,-0.86],[9.35,-0.54],[9.45,-0.49],[9.56,-0.33],[9.66,-0.27],[9.76,-0.11],[9.87,-0.06],[9.97,0.10],[10.08,0.26],[10.18,0.21],
[10.29,0.05],[10.41,0.26],[10.50,0.58],[10.58,0.05],[10.67,-0.33],[10.77,-0.76],[10.88,-0.54],[10.98,-0.38],[11.09,-0.27],[11.19,-0.22],
[11.30,-0.11],[11.40,-0.01],[11.51,-0.11],[11.61,0.10],[11.71,0.05],[11.82,0.21],[11.92,0.05],[12.03,0.10],[12.13,0.32],[12.24,0.10],
[12.34,-0.01],[12.45,0.21],[12.55,0.05],[12.65,0.32],[12.76,-0.11],[12.86,0.16],[12.97,0.05],[13.07,-0.22],[13.18,0.10],[13.28,-0.01],
[13.39,-0.11],[13.49,0.05],[13.59,-0.06],[13.70,0.10],[13.80,0.26],[13.89,-0.27],[14.01,-0.65],[14.12,-0.49],[14.22,-0.38],[14.33,-0.22],
[14.43,-0.06],[14.53,-0.01],[14.64,0.05],[14.76,0.16],[14.88,-0.01],[14.99,0.05],[15.09,0.10],[15.20,0.05],[15.30,0.21],[15.41,0.32],
[15.51,0.05],[15.62,-0.27],[15.72,-0.27],[15.83,-0.17],[15.93,0.05],[16.03,-0.06],[16.14,0.16],[16.24,0.10],[16.35,0.05],[16.45,0.21],
[16.56,0.10],[16.66,0.32],[16.73,0.69],[16.80,1.17],[16.87,1.07],[16.92,1.50],[16.99,0.85],[17.08,-0.33],[17.15,-0.70],[17.25,-0.54],
[17.35,-0.60],[17.46,-0.65],[17.56,-0.43],[17.67,-0.22],[17.77,-0.01],[17.88,0.05],[17.98,-0.06],[18.09,0.10],[18.19,0.05],[18.30,0.32],
[18.40,-0.33],[18.50,-0.54],[18.61,-0.43],[18.71,-0.22],[18.82,0.05],[18.92,-0.17],[19.03,-0.11],[19.13,-0.22],[19.24,-0.01],[19.34,-0.11],
[19.45,0.05],[19.55,-0.01],[19.66,0.21],[19.76,0.05],[19.86,0.16],[20.0,0.05]];

const seriesP = [[0,-3.17],[0.10,-2.68],[0.21,-0.73],[0.30,-0.24],[0.38,-1.71],[0.49,-2.44],[0.59,-1.95],[0.70,0],[0.80,1.71],[0.91,1.95],
[1.01,1.71],[1.12,-0.73],[1.22,1.22],[1.32,6.34],[1.43,5.12],[1.53,2.68],[1.64,-2.68],[1.74,-5.37],[1.85,-4.15],[1.95,-0.24],
[2.06,0.24],[2.16,0.73],[2.26,1.22],[2.37,0.98],[2.47,3.66],[2.58,6.34],[2.68,5.61],[2.79,3.17],[2.89,-2.68],[3.00,-3.41],
[3.10,-3.17],[3.21,0.24],[3.31,1.46],[3.38,-3.66],[3.48,-2.93],[3.59,-0.24],[3.69,0.24],[3.80,0.98],[3.90,-0.24],[4.01,-1.46],
[4.11,-1.46],[4.22,1.71],[4.32,3.66],[4.39,5.61],[4.49,4.63],[4.60,2.20],[4.70,-2.68],[4.81,-4.88],[4.91,-2.20],[5.02,0.73],
[5.12,3.17],[5.19,-1.71],[5.30,-3.90],[5.37,-2.20],[5.47,-6.83],[5.58,-4.15],[5.68,-1.22],[5.78,0.49],[5.89,1.22],[5.99,0.98],
[6.10,0.24],[6.20,0.24],[6.31,2.68],[6.38,4.63],[6.45,7.07],[6.55,5.61],[6.66,3.17],[6.76,-1.71],[6.90,-5.85],[7.00,-4.39],
[7.11,-2.20],[7.21,0.24],[7.32,0.73],[7.42,0.24],[7.53,0.98],[7.63,0.24],[7.74,0.73],[7.84,1.71],[7.94,2.44],[8.05,4.39],
[8.15,-0.24],[8.26,-4.15],[8.36,-3.17],[8.47,-2.20],[8.57,1.22],[8.68,0.98],[8.78,0.73],[8.89,0.49],[8.99,0],[9.09,0.24],
[9.20,-0.24],[9.30,2.20],[9.41,4.63],[9.51,-0.24],[9.62,-4.63],[9.72,-6.34],[9.83,-4.15],[9.93,0.24],[10.04,0.98],[10.14,0.24],
[10.24,0.73],[10.35,-0.24],[10.45,-1.71],[10.56,-1.22],[10.66,3.66],[10.77,6.10],[10.87,5.12],[10.98,2.20],[11.08,-1.22],[11.18,-4.63],
[11.29,-3.17],[11.39,-0.24],[11.50,1.71],[11.60,5.12],[11.71,4.15],[11.81,2.68],[11.92,-0.24],[12.02,-4.15],[12.13,-4.15],[12.23,-1.22],
[12.33,-0.98],[12.44,-1.46],[12.54,-0.24],[12.65,0],[12.75,0.24],[12.86,-1.22],[12.96,-0.24],[13.07,0.24],[13.17,0.98],[13.28,2.20],
[13.38,3.90],[13.49,-0.24],[13.59,-4.63],[13.69,-3.66],[13.80,-2.20],[13.90,0.24],[14.01,1.22],[14.11,1.22],[14.22,0.24],[14.32,-0.24],
[14.43,1.22],[14.53,3.17],[14.63,5.61],[14.74,4.63],[14.84,1.71],[14.95,-2.20],[15.05,-5.12],[15.16,-3.66],[15.26,-0.24],[15.37,0.73],
[15.47,-0.73],[15.58,-1.22],[15.68,0.24],[15.78,-2.44],[15.89,-0.73],[15.99,0.73],[16.10,2.68],[16.20,4.15],[16.31,4.63],[16.41,-2.68],
[16.48,-9.27],[16.59,-6.10],[16.69,-2.20],[16.79,-0.24],[16.90,-0.98],[17.00,0],[17.11,-0.24],[17.21,0.24],[17.32,0.73],[17.42,1.71],
[17.53,2.44],[17.60,3.66],[17.70,0.73],[17.81,-3.17],[17.91,-4.15],[18.02,-3.17],[18.12,0.73],[18.23,1.22],[18.33,1.22],[18.43,0.73],
[18.54,-0.24],[18.64,1.71],[18.75,4.15],[18.85,5.61],[18.96,4.63],[19.06,2.68],[19.17,-2.20],[19.27,-4.15],[19.38,-3.17],[19.48,-1.22],
[19.59,1.71],[19.69,-0.73],[19.80,-2.68],[19.90,-1.22],[20.0,-0.24]];

const seriesK = seriesKValues.map((v, i) => [i * 20 / (seriesKValues.length - 1), v]);

// ---- layout: plot box [left, top, right, bottom] in page pixels, letter position ----
const panels = [
  { name: 'a', data: seriesA, yTicks: ticks5,  box: [186, 34, 1190, 162],   letter: [1254, 107] },
  { name: 'b', data: seriesB, yTicks: ticks10, box: [193, 183, 1198, 330],  letter: [1250, 280] },
  { name: 'c', data: seriesC, yTicks: ticks10, box: [189, 343, 1193, 477],  letter: [1260, 437] },
  { name: 'd', data: seriesD, yTicks: ticks20, box: [189, 514, 1193, 626],  letter: [1263, 577] },
  { name: 'e', data: seriesE, yTicks: ticks20, box: [197, 653, 1201, 788],  letter: [1270, 728] },
  { name: 'f', data: seriesF, yTicks: ticks5,  box: [195, 805, 1201, 954],  letter: [1266, 897] },
  { name: 'g', data: seriesG, yTicks: ticks10, box: [198, 972, 1203, 1108], letter: [1270, 1060], smooth: true },
  { name: 'h', data: seriesH, yTicks: ticks5,  box: [192, 1130, 1197, 1261], letter: [1280, 1220], smooth: true, timeAxis: true },
  { name: 'i', data: seriesG, yTicks: ticks10, box: [1620, 41, 2625, 168],  letter: [2673, 97], smooth: true },
  { name: 'j', data: seriesJ, yTicks: ticks5,  box: [1633, 202, 2637, 345], letter: [2681, 262], smooth: true },
  { name: 'k', data: seriesK, yTicks: ticks2,  box: [1641, 373, 2645, 516], letter: [2701, 448] },
  { name: 'l', data: seriesL, yTicks: ticks5,  box: [1653, 547, 2658, 679], letter: [2707, 627], smooth: true },
  { name: 'm', data: seriesL, yTicks: ticks5,  box: [1645, 694, 2650, 830], letter: [2695, 767], smooth: true },
  { name: 'n', data: seriesN, yTicks: ticks5,  box: [1659, 859, 2664, 997], letter: [2715, 932], smooth: true },
  { name: 'o', data: seriesO, yTicks: ticks2,  box: [1669, 1014, 2673, 1139], letter: [2713, 1078] },
  { name: 'p', data: seriesP, yTicks: ticks10, box: [1680, 1157, 2684, 1293], letter: [2722, 1230], smooth: true, timeAxis: true }
];

const FONT = 'Liberation Mono, DejaVu Sans Mono, monospace';
const PAD_L = 200, PAD_T = 50, PAD_R = 110, PAD_B = 50, TIME_AXIS_H = 110;
const fig = document.getElementById('fig');

const minusSign = v => String(v).replace('-', '\u2212');

// MATLAB-style frame with short inward ticks
const framePlugin = {
  id: 'frame',
  beforeDatasetsDraw(chart) {
    const { ctx, chartArea: a, scales } = chart;
    ctx.save();
    ctx.strokeStyle = '#000';
    ctx.lineWidth = 2;
    ctx.strokeRect(a.left, a.top, a.right - a.left, a.bottom - a.top);
    ctx.strokeStyle = '#555';
    ctx.lineWidth = 1.5;
    ctx.beginPath();
    const y0 = scales.y.getPixelForValue(0);
    ctx.moveTo(a.left, y0); ctx.lineTo(a.left + 10, y0);
    ctx.moveTo(a.right - 10, y0); ctx.lineTo(a.right, y0);
    if (scales.x.options.display) {
      const xm = scales.x.getPixelForValue(timeTickValues[1]);
      ctx.moveTo(xm, a.bottom); ctx.lineTo(xm, a.bottom - 10);
      ctx.moveTo(xm, a.top); ctx.lineTo(xm, a.top + 10);
    }
    ctx.stroke();
    ctx.restore();
  }
};

panels.forEach(p => {
  const [L, T, R, B] = p.box;
  const w = R - L + PAD_L + PAD_R;
  const h = B - T + PAD_T + (p.timeAxis ? TIME_AXIS_H : PAD_B);
  const cv = document.createElement('canvas');
  cv.width = w; cv.height = h;
  cv.style.left = (L - PAD_L) + 'px';
  cv.style.top = (T - PAD_T) + 'px';
  cv.style.width = w + 'px';
  cv.style.height = h + 'px';
  fig.appendChild(cv);

  new Chart(cv, {
    type: 'line',
    data: {
      datasets: [{
        data: p.data.map(([t, v]) => ({ x: t, y: v })),
        borderColor: '#0000ff',
        borderWidth: 4,
        pointRadius: 0,
        cubicInterpolationMode: p.smooth ? 'monotone' : 'default',
        tension: 0,
        fill: false
      }]
    },
    options: {
      responsive: false,
      animation: false,
      devicePixelRatio: 1,
      parsing: false,
      layout: { padding: { left: 0, top: PAD_T, right: PAD_R, bottom: p.timeAxis ? 0 : PAD_B } },
      plugins: { legend: { display: false }, tooltip: { enabled: false } },
      scales: {
        x: {
          type: 'linear',
          min: timeTickValues[0],
          max: timeTickValues[timeTickValues.length - 1],
          display: !!p.timeAxis,
          grid: { display: false, drawTicks: false },
          border: { display: false },
          afterBuildTicks: s => { s.ticks = timeTickValues.map(v => ({ value: v })); },
          afterFit: s => { if (p.timeAxis) s.height = TIME_AXIS_H; },
          ticks: {
            autoSkip: false, maxRotation: 0, padding: 12, color: '#000',
            font: { family: FONT, size: 64 },
            callback: (v, i) => timeTickLabels[i]
          }
        },
        y: {
          type: 'linear',
          min: p.yTicks[0],
          max: p.yTicks[p.yTicks.length - 1],
          grid: { display: false, drawTicks: false },
          border: { display: false },
          afterBuildTicks: s => { s.ticks = p.yTicks.map(v => ({ value: v })); },
          afterFit: s => { s.width = PAD_L; },
          ticks: {
            autoSkip: false, padding: 13, color: '#000',
            font: { family: FONT, size: 64 },
            callback: v => minusSign(v)
          }
        }
      }
    },
    plugins: [framePlugin]
  });
});

// text overlay: panel letters, axis titles
const SVG_NS = 'http://www.w3.org/2000/svg';
const svg = document.createElementNS(SVG_NS, 'svg');
svg.setAttribute('width', 2771);
svg.setAttribute('height', 1438);
fig.appendChild(svg);

function addText(str, attrs) {
  const t = document.createElementNS(SVG_NS, 'text');
  t.textContent = str;
  t.setAttribute('font-family', FONT);
  t.setAttribute('fill', '#000');
  t.setAttribute('text-anchor', 'middle');
  Object.entries(attrs).forEach(([k, v]) => t.setAttribute(k, v));
  svg.appendChild(t);
}

panels.forEach(p => addText(p.name, { x: p.letter[0], y: p.letter[1], 'font-size': 84 }));

const xTitle = 'Time (in sec)';
const yTitle = "FPF's";
addText(xTitle, { x: 620, y: 1408, 'font-size': 73, textLength: 625, lengthAdjust: 'spacingAndGlyphs' });
addText(xTitle, { x: 2203, y: 1415, 'font-size': 73, textLength: 626, lengthAdjust: 'spacingAndGlyphs' });
addText(yTitle, { transform: 'translate(75,601) rotate(-90)', 'font-size': 88, textLength: 285, lengthAdjust: 'spacingAndGlyphs' });
addText(yTitle, { transform: 'translate(1488,556) rotate(-90)', 'font-size': 88, textLength: 285, lengthAdjust: 'spacingAndGlyphs' });
</script>
</body>
</html>
